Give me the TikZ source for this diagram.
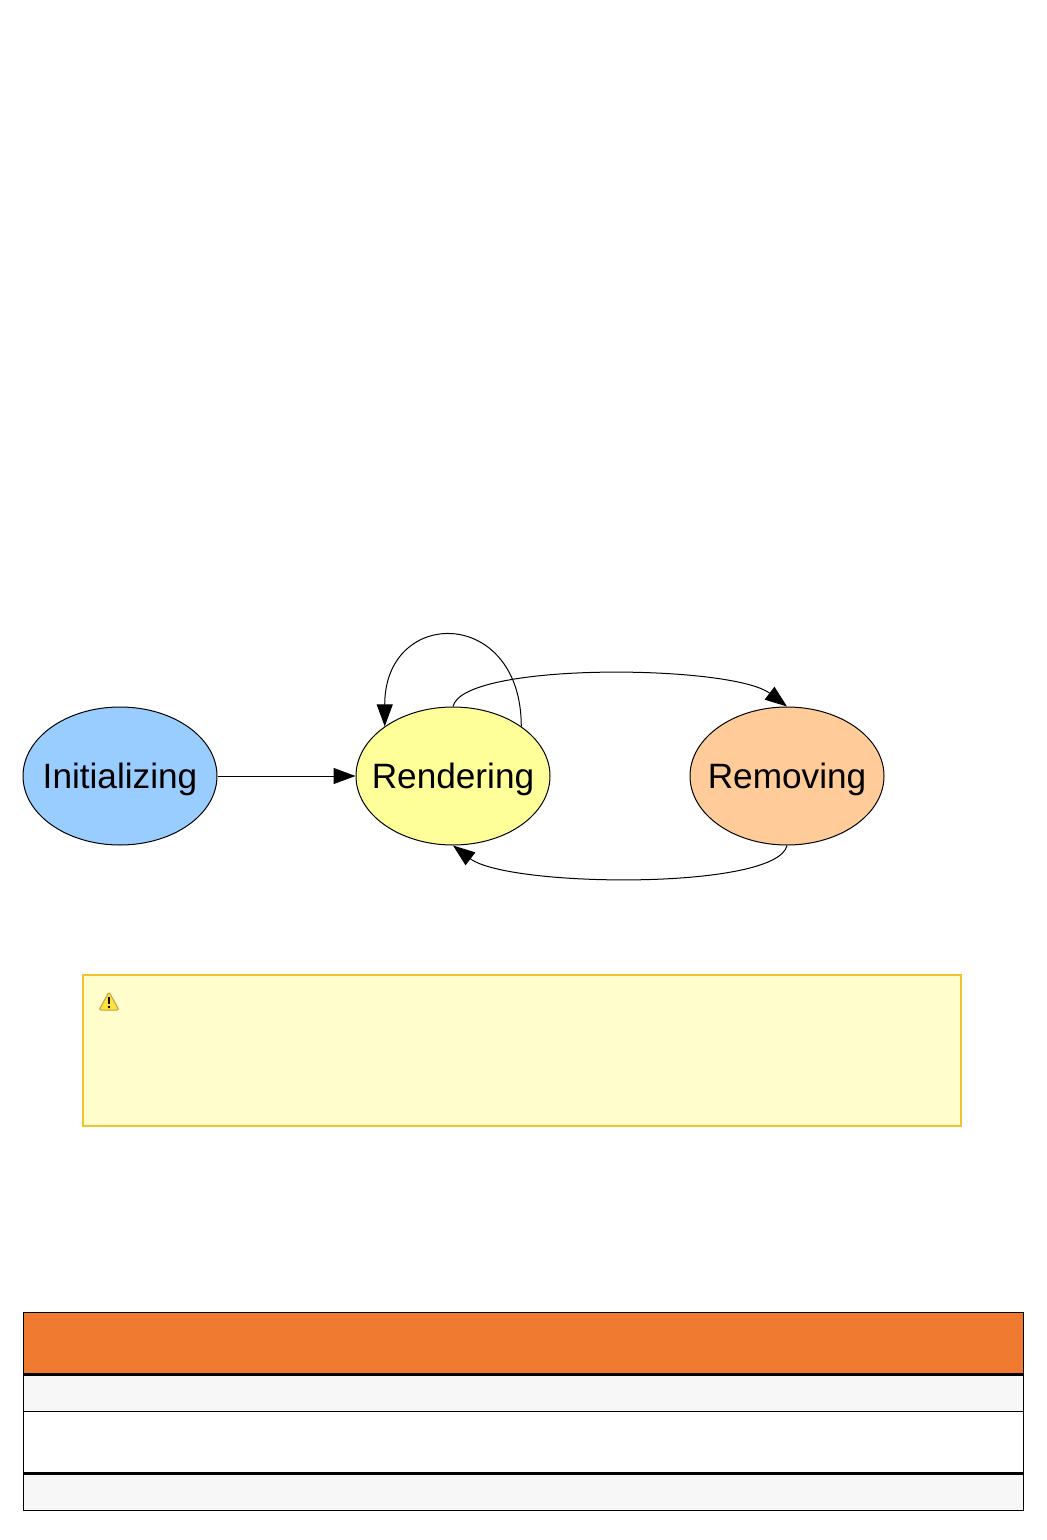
\documentclass[tikz,border=0pt]{standalone}
\usepackage{fontspec}
\setmainfont{Liberation Sans}
\usetikzlibrary{shapes.geometric,arrows.meta,positioning}
\definecolor{myblue}{RGB}{153,204,255}
\definecolor{myyellow}{RGB}{255,255,153}
\definecolor{myorange}{RGB}{255,204,153}
\definecolor{notefill}{RGB}{255,253,204}
\definecolor{noteborder}{RGB}{241,194,50}
\definecolor{iconyellow}{RGB}{255,226,60}
\definecolor{iconborder}{RGB}{190,160,70}
\definecolor{headorange}{RGB}{240,123,48}
\definecolor{rowgrey}{RGB}{247,247,247}
\newcommand{\widthstate}{97pt}
\newcommand{\heightstate}{69pt}
\newcommand{\widthtable}{500pt}
\tikzset{
    state/.style={ellipse, draw, line width=0.5pt, inner sep=0pt, minimum width=\widthstate, minimum height=\heightstate},
    trans/.style={-{Triangle[length=11pt, width=8pt]}, line width=0.5pt},
    notebox/.style={draw=noteborder, fill=notefill, line width=0.75pt, minimum width=439pt, minimum height=75.5pt},
    cell/.style={draw, anchor=north west, line width=0.5pt, inner sep=0pt, outer sep=0pt, minimum width=\widthtable}
}
\begin{document}
\begin{tikzpicture}[x=0.5pt, y=-0.5pt, every label/.style={font=\fontsize{17.6}{20}\selectfont, yshift=-1.5pt}]
            \useasboundingbox (0,0) rectangle (1047,1540);
            \path
                (120,776) node[state, fill=myblue, label=center:{Initializing}] (init) {}
                ++(333,0) node[state, fill=myyellow, label=center:{Rendering}] (rend) {}
                ++(334,0) node[state, fill=myorange, label=center:{Removing}] (remove) {};

            \draw[trans] (init) -- (rend);
            \draw[trans] (rend.36) .. controls +(0,-120) and +(0,-120) .. (rend.144);
            \draw[trans] (rend.north) .. controls +(10,-45) and +(-55,-42) .. (remove.north);
            \draw[trans] (remove.south) .. controls +(-10,45) and +(55,42) .. (rend.south);

            \node[notebox] (note) at (522,1050.5) {};
            \filldraw[fill=iconyellow, draw=iconborder, line width=0.5pt, rounded corners=1pt]
                (99,1010) -- (109,992) -- (119,1010) -- cycle;
            \fill (107.6,997) rectangle (110.4,1004);
            \fill (109,1007) circle (1.4);

            \node[cell, fill=headorange, minimum height=31pt] (head) at (23,1312) {};
            \node[cell, fill=rowgrey, minimum height=18.5pt] (rowa) at (head.south west) {};
            \node[cell, fill=white, minimum height=31pt] (rowb) at (rowa.south west) {};
            \node[cell, fill=rowgrey, minimum height=18.5pt] (rowc) at (rowb.south west) {};
            \draw[line width=1.5pt] (head.south west) -- (head.south east);
            \draw[line width=1.5pt] (rowb.south west) -- (rowb.south east);
        \end{tikzpicture}
\end{document}
